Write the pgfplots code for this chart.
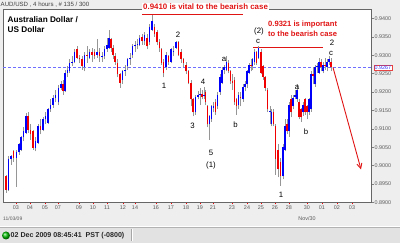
\documentclass[border=0pt]{standalone}
\usepackage{fontspec}
\setmainfont{Liberation Sans}
\usepackage{pgfplots}
\pgfplotsset{compat=1.18}
\usepackage{pgfplotstable}
\usetikzlibrary{arrows.meta}

\definecolor{bg}{RGB}{238,238,238}
\definecolor{sbar}{RGB}{226,226,226}
\definecolor{cblue}{RGB}{0,0,250}
\definecolor{cred}{RGB}{240,0,0}
\definecolor{wick}{RGB}{150,150,150}
\definecolor{anno}{RGB}{225,20,20}
\definecolor{dashblue}{RGB}{110,110,255}
\definecolor{tlab}{RGB}{90,90,90}

\pgfplotstableread{
x O H L C
6 0.8971 0.8976 0.8927 0.8935
8.5 0.8935 0.9025 0.8930 0.9017
11 0.9017 0.9030 0.9003 0.9025
13.5 0.9039 0.9044 0.9011 0.9022
16.5 0.9022 0.9044 0.8943 0.9036
19 0.9036 0.9063 0.9030 0.9058
21 0.9044 0.9082 0.9039 0.9077
23.5 0.9077 0.9104 0.9066 0.9093
26 0.9090 0.9142 0.9085 0.9134
28 0.9134 0.9147 0.9090 0.9098
30.5 0.9098 0.9112 0.9071 0.9085
33 0.9093 0.9098 0.9044 0.9049
35.5 0.9049 0.9077 0.9039 0.9066
38 0.9063 0.9112 0.9058 0.9107
40.5 0.9107 0.9126 0.9085 0.9098
43 0.9098 0.9131 0.9093 0.9126
45.5 0.9126 0.9147 0.9112 0.9134
48 0.9117 0.9158 0.9112 0.9153
50.5 0.9153 0.9180 0.9147 0.9166
53 0.9166 0.9193 0.9158 0.9185
55.5 0.9185 0.9207 0.9172 0.9191
58.5 0.9172 0.9218 0.9164 0.9212
61 0.9212 0.9229 0.9207 0.9221
63 0.9223 0.9234 0.9193 0.9202
65 0.9202 0.9261 0.9199 0.9253
67.5 0.9253 0.9272 0.9240 0.9261
69.5 0.9256 0.9289 0.9251 0.9280
72 0.9280 0.9299 0.9270 0.9283
74.5 0.9283 0.9316 0.9278 0.9308
77 0.9316 0.9324 0.9289 0.9294
79.5 0.9294 0.9302 0.9278 0.9289
82 0.9289 0.9297 0.9261 0.9270
84.5 0.9267 0.9308 0.9256 0.9302
87 0.9302 0.9324 0.9280 0.9299
89.5 0.9294 0.9316 0.9289 0.9310
92 0.9310 0.9321 0.9283 0.9302
94.5 0.9310 0.9316 0.9289 0.9297
97 0.9302 0.9343 0.9294 0.9308
99.5 0.9310 0.9321 0.9283 0.9297
102 0.9297 0.9310 0.9283 0.9299
104.5 0.9297 0.9324 0.9289 0.9316
107 0.9316 0.9348 0.9310 0.9327
109 0.9321 0.9370 0.9316 0.9348
111 0.9343 0.9348 0.9310 0.9321
113 0.9321 0.9329 0.9289 0.9302
115 0.9299 0.9305 0.9275 0.9283
117.5 0.9280 0.9289 0.9240 0.9248
120 0.9248 0.9253 0.9212 0.9226
122.5 0.9234 0.9261 0.9223 0.9256
125 0.9256 0.9275 0.9245 0.9261
127.5 0.9270 0.9294 0.9261 0.9289
130 0.9289 0.9305 0.9275 0.9294
132.5 0.9302 0.9332 0.9294 0.9324
135 0.9324 0.9338 0.9310 0.9327
137.5 0.9327 0.9343 0.9316 0.9332
139.5 0.9329 0.9354 0.9324 0.9348
142 0.9351 0.9357 0.9329 0.9338
144.5 0.9338 0.9362 0.9329 0.9354
147 0.9348 0.9357 0.9316 0.9324
149.5 0.9335 0.9384 0.9329 0.9378
152 0.9370 0.9409 0.9365 0.9392
154.5 0.9378 0.9386 0.9351 0.9357
157 0.9362 0.9370 0.9327 0.9335
159.5 0.9335 0.9343 0.9310 0.9321
161.5 0.9316 0.9321 0.9275 0.9280
163.5 0.9283 0.9289 0.9240 0.9253
166 0.9267 0.9308 0.9261 0.9302
168.5 0.9297 0.9302 0.9275 0.9283
171 0.9283 0.9321 0.9278 0.9316
173.5 0.9310 0.9324 0.9297 0.9313
176 0.9321 0.9338 0.9316 0.9335
178.5 0.9335 0.9338 0.9297 0.9302
181 0.9308 0.9316 0.9280 0.9289
183.5 0.9289 0.9294 0.9267 0.9280
186 0.9275 0.9283 0.9248 0.9256
188.5 0.9256 0.9261 0.9221 0.9226
191 0.9226 0.9234 0.9161 0.9180
193 0.9180 0.9185 0.9134 0.9145
195.5 0.9145 0.9193 0.9139 0.9188
198 0.9188 0.9202 0.9180 0.9193
200 0.9193 0.9212 0.9166 0.9196
202 0.9196 0.9207 0.9180 0.9188
204 0.9191 0.9215 0.9180 0.9193
205.5 0.9199 0.9207 0.9164 0.9172
207.5 0.9161 0.9166 0.9104 0.9112
209.5 0.9112 0.9139 0.9071 0.9134
211.5 0.9126 0.9166 0.9120 0.9161
213.5 0.9158 0.9174 0.9145 0.9161
215.5 0.9172 0.9180 0.9139 0.9145
217.5 0.9161 0.9199 0.9153 0.9193
220 0.9199 0.9248 0.9193 0.9242
222 0.9226 0.9267 0.9221 0.9261
224 0.9261 0.9275 0.9248 0.9267
226.5 0.9261 0.9297 0.9256 0.9283
228.5 0.9280 0.9286 0.9251 0.9256
230.5 0.9256 0.9261 0.9223 0.9229
232.5 0.9229 0.9248 0.9207 0.9226
234.5 0.9234 0.9240 0.9166 0.9172
236.5 0.9180 0.9185 0.9139 0.9161
238.5 0.9166 0.9199 0.9153 0.9193
240.5 0.9188 0.9199 0.9161 0.9185
243 0.9180 0.9221 0.9174 0.9215
245 0.9215 0.9229 0.9202 0.9221
247 0.9221 0.9261 0.9212 0.9256
249 0.9253 0.9280 0.9248 0.9275
251 0.9275 0.9289 0.9256 0.9272
252.5 0.9270 0.9294 0.9261 0.9289
254.5 0.9283 0.9316 0.9275 0.9310
256.5 0.9308 0.9313 0.9275 0.9280
258.5 0.9294 0.9324 0.9289 0.9319
261 0.9310 0.9316 0.9248 0.9253
263 0.9270 0.9275 0.9234 0.9242
265 0.9240 0.9245 0.9202 0.9212
267.5 0.9207 0.9212 0.9145 0.9153
270 0.9147 0.9161 0.9112 0.9150
271.5 0.9112 0.9153 0.9107 0.9147
273.5 0.9147 0.9153 0.9107 0.9112
275.5 0.9107 0.9112 0.8976 0.9017
278 0.9044 0.9058 0.8968 0.8990
280.5 0.9011 0.9022 0.8946 0.8971
283 0.8971 0.9058 0.8963 0.9052
285 0.9044 0.9126 0.9039 0.9107
287 0.9112 0.9126 0.9085 0.9093
289 0.9093 0.9172 0.9079 0.9166
291 0.9180 0.9193 0.9131 0.9145
293 0.9161 0.9193 0.9153 0.9185
295 0.9188 0.9207 0.9180 0.9191
297 0.9180 0.9221 0.9174 0.9207
299 0.9172 0.9180 0.9126 0.9131
301 0.9153 0.9158 0.9120 0.9131
303 0.9145 0.9174 0.9136 0.9166
305 0.9180 0.9185 0.9139 0.9145
307 0.9161 0.9166 0.9126 0.9145
309 0.9147 0.9185 0.9139 0.9180
311 0.9153 0.9256 0.9147 0.9248
313 0.9248 0.9267 0.9221 0.9245
315 0.9221 0.9275 0.9215 0.9267
317 0.9267 0.9280 0.9253 0.9270
319 0.9253 0.9294 0.9248 0.9283
321 0.9283 0.9289 0.9256 0.9267
323 0.9256 0.9283 0.9251 0.9275
325 0.9275 0.9294 0.9261 0.9272
327 0.9267 0.9289 0.9256 0.9283
329 0.9283 0.9299 0.9275 0.9289
331 0.9283 0.9294 0.9256 0.9267
}\candles

\begin{document}
\begin{tikzpicture}[x=1pt,y=1pt]
\useasboundingbox (0,0) rectangle (400,243);
\fill[bg] (0,0) rectangle (400,243);
% status bar
\fill[sbar] (0,0) rectangle (400,16);
\draw[white] (0,16.5) -- (400,16.5);
\draw[gray!60] (0,16) -- (400,16);
\draw[gray!70] (131,2) -- (131,14);
\draw[white] (132,2) -- (132,14);
\shade[ball color=green!75!black] (6,7.5) circle (4);
\node[anchor=west, font=\bfseries\fontsize{7.1}{8}\selectfont, text=black!85, inner sep=0pt] at (10.5,7.5) {02 Dec 2009 08:45:41\ \ PST (-0800)};

\begin{axis}[
  at={(3pt,40.5pt)}, anchor=south west,
  scale only axis, width=368.5pt, height=193pt,
  xmin=3, xmax=371.5, ymin=0.89, ymax=0.94245,
  axis background/.style={fill=white},
  axis line style={gray!80!black, line width=0.5pt},
  clip=true,
  xtick={16,30,45,58,79,93,107,123,135,156,171,186,200,213,232,247,261,275,289,307,322,337,352},
  xticklabels={03,04,05,07,09,10,11,12,14,16,17,18,19,21,23,24,25,26,28,30,01,02,03},
  xtick pos=bottom, ytick pos=right, yticklabel pos=right,
  tick align=outside,
  major tick length=2pt,
  x tick style={cred, line width=0.6pt},
  y tick style={gray, line width=0.5pt},
  ytick={0.89,0.895,0.9,0.905,0.91,0.915,0.92,0.925,0.93,0.935,0.94},
  scaled y ticks=false,
  yticklabel style={font=\fontsize{5.4}{6}\selectfont, text=tlab, inner sep=1pt,
    /pgf/number format/.cd, fixed, fixed zerofill, precision=4, assume math mode=true},
  xticklabel style={font=\fontsize{5.4}{6}\selectfont, text=tlab, inner sep=1.5pt},
  /pgf/number format/assume math mode=true,
]
% level lines
\addplot[dashblue, dash pattern=on 3pt off 2pt, line width=0.55pt] coordinates {(3,0.9267) (371.5,0.9267)};
\addplot[anno, line width=1.1pt] coordinates {(142,0.9410) (243,0.9410)};
\addplot[anno, line width=1.1pt] coordinates {(253,0.9321) (323,0.9321)};
% wicks
\addplot[draw=none, no markers, forget plot,
  error bars/.cd, y dir=plus, y explicit, error mark=none,
  error bar style={draw=wick, line width=0.75pt, solid}]
  table[x=x, y=L, y error plus expr=\thisrow{H}-\thisrow{L}] {\candles};
% up bodies (zero length where the bar closed lower)
\addplot[draw=none, no markers, forget plot,
  error bars/.cd, y dir=plus, y explicit, error mark=none,
  error bar style={draw=cblue, line width=1.6pt, solid}]
  table[x=x, y=O, y error plus expr={max(\thisrow{C}-\thisrow{O},0)}] {\candles};
% down bodies (zero length where the bar closed higher)
\addplot[draw=none, no markers, forget plot,
  error bars/.cd, y dir=plus, y explicit, error mark=none,
  error bar style={draw=cred, line width=1.6pt, solid}]
  table[x=x, y=C, y error plus expr={max(\thisrow{O}-\thisrow{C},0)}] {\candles};
% projection arrow
\addplot[anno, line width=0.9pt, -{Straight Barb[length=5pt,width=5pt]}] coordinates {(333,0.9267) (361,0.8990)};
\end{axis}

% current price box
\node[draw=anno!80, fill=white, text=blue!80, font=\fontsize{5.4}{6}\selectfont, inner sep=0.8pt, anchor=west, line width=0.4pt] at (373.5,175.3) {0.9267};

% header and titles
\node[anchor=west, font=\fontsize{6.1}{7}\selectfont, text=black!75, inner sep=0pt] at (0.5,238.5) {AUD/USD , 4 hours , \# 135 / 300};
\node[anchor=west, font=\bfseries\fontsize{8.2}{9}\selectfont, inner sep=0pt] at (7.5,223.7) {Australian Dollar /};
\node[anchor=west, font=\bfseries\fontsize{8.2}{9}\selectfont, inner sep=0pt] at (7.5,213.7) {US Dollar};
\node[anchor=west, font=\bfseries\fontsize{7.9}{9}\selectfont, text=anno, fill=white, inner sep=1pt] at (142,236) {0.9410 is vital to the bearish case};
\node[anchor=west, font=\bfseries\fontsize{7.6}{9}\selectfont, text=anno, inner sep=0pt] at (268,218) {0.9321 is important};
\node[anchor=west, font=\bfseries\fontsize{7.6}{9}\selectfont, text=anno, inner sep=0pt] at (268,209.5) {to the bearish case};

% wave labels
\begin{scope}[every node/.style={font=\fontsize{7.8}{9}\selectfont, inner sep=0pt}]
\node at (164,157) {1};
\node at (178,208) {2};
\node at (192.5,117.5) {3};
\node at (203,161.5) {4};
\node at (211,90) {5};
\node at (211,78) {(1)};
\node at (224,184) {a};
\node at (235.5,118) {b};
\node at (259,212) {(2)};
\node at (258,201.5) {c};
\node at (332,200) {2};
\node at (331,190) {c};
\node at (297,156) {a};
\node at (306,111) {b};
\node at (281,48) {1};
\end{scope}

% date labels
\node[anchor=west, font=\fontsize{5}{6}\selectfont, text=tlab, inner sep=0pt] at (3,24.5) {11/03/09};
\node[font=\fontsize{5.4}{6}\selectfont, text=tlab, inner sep=0pt] at (307,24.5) {Nov/30};
\end{tikzpicture}
\end{document}
